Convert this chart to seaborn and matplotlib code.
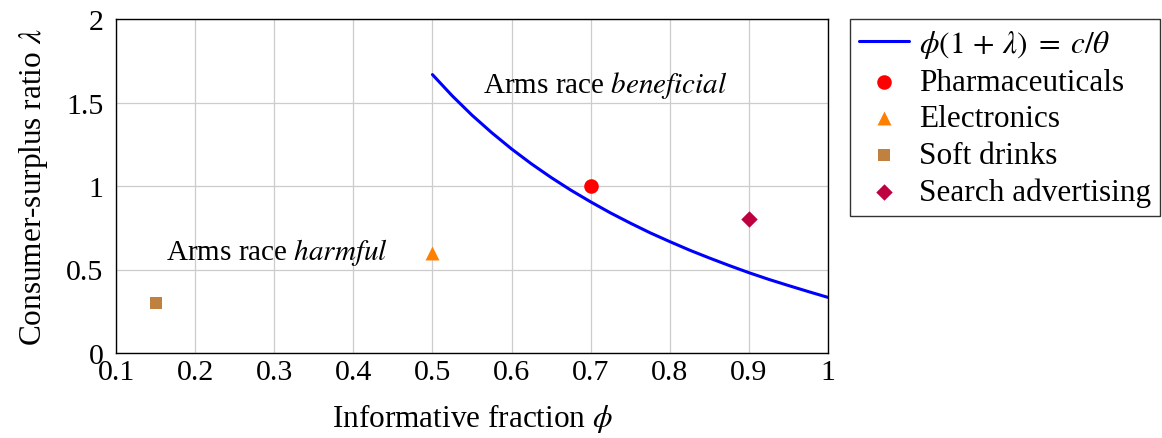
import matplotlib
matplotlib.use("Agg")
import matplotlib.pyplot as plt
import seaborn as sns
import pandas as pd

# Curve phi(1+lambda) = c/theta
curve_phi = [0.500, 0.525, 0.550, 0.575, 0.600, 0.625, 0.650, 0.675, 0.700, 0.725, 0.750,
             0.775, 0.800, 0.825, 0.850, 0.875, 0.900, 0.925, 0.950, 0.975, 1.000]
curve_lam = [1.667, 1.540, 1.424, 1.319, 1.222, 1.133, 1.051, 0.975, 0.905, 0.839, 0.778,
             0.720, 0.667, 0.616, 0.569, 0.524, 0.481, 0.441, 0.404, 0.368, 0.333]

industries = ["Pharmaceuticals", "Electronics", "Soft drinks", "Search advertising"]
ind_phi = [0.70, 0.50, 0.15, 0.90]
ind_lam = [1.00, 0.60, 0.30, 0.80]
ind_colors = ["#ff0000", "#ff7f00", "#bf8040", "#bf0040"]
ind_markers = ["o", "^", "s", "D"]
ind_sizes = [110, 100, 70, 70]

x_ticks = [0.1, 0.2, 0.3, 0.4, 0.5, 0.6, 0.7, 0.8, 0.9, 1.0]
x_ticklabels = ["0.1", "0.2", "0.3", "0.4", "0.5", "0.6", "0.7", "0.8", "0.9", "1"]
y_ticks = [0, 0.5, 1, 1.5, 2]
y_ticklabels = ["0", "0.5", "1", "1.5", "2"]

sns.set_theme(style="white")
plt.rcParams["font.family"] = ["Liberation Serif", "DejaVu Serif"]
plt.rcParams["mathtext.fontset"] = "stix"
plt.rcParams["text.color"] = "black"
plt.rcParams["axes.labelcolor"] = "black"

fig = plt.figure(figsize=(11.62, 4.39), dpi=100)
ax = fig.add_axes([116 / 1162, 1 - 354 / 439, (828 - 116) / 1162, (354 - 20) / 439])

df_curve = pd.DataFrame({"phi": curve_phi, "lam": curve_lam})
sns.lineplot(data=df_curve, x="phi", y="lam", ax=ax, color="#0000ff", linewidth=2.2,
             sort=False, estimator=None, label=r"$\phi(1\,+\,\lambda)\;=\;c/\theta$", zorder=3)

for name, px, py, c, m, s in zip(industries, ind_phi, ind_lam, ind_colors, ind_markers, ind_sizes):
    sns.scatterplot(x=[px], y=[py], ax=ax, color=c, marker=m, s=s, linewidth=0,
                    label=name, zorder=4)

ax.set_xlim(0.1, 1.0)
ax.set_ylim(0, 2)
ax.set_xticks(x_ticks)
ax.set_xticklabels(x_ticklabels)
ax.set_yticks(y_ticks)
ax.set_yticklabels(y_ticklabels)
ax.tick_params(axis="both", length=0, labelsize=21.5, colors="black")
ax.tick_params(axis="x", pad=4)
ax.tick_params(axis="y", pad=9)
ax.grid(True, color="#cccccc", linewidth=0.9)
for sp in ax.spines.values():
    sp.set_visible(True)
    sp.set_color("black")
    sp.set_linewidth(1.0)

ax.set_xlabel(r"Informative fraction $\phi$", fontsize=22.5, color="black", labelpad=12)
ax.set_ylabel(r"Consumer-surplus ratio $\lambda$", fontsize=22.5, color="black", labelpad=12)

ax.text(0.718, 1.61, r"Arms race $\mathit{beneficial}$", fontsize=21, ha="center", va="center", color="black")
ax.text(0.304, 0.61, r"Arms race $\mathit{harmful}$", fontsize=21, ha="center", va="center", color="black")

leg = ax.legend(loc="upper left", bbox_to_anchor=(850 / 1162, 1 - 20 / 439),
                bbox_transform=fig.transFigure, fontsize=22.5, frameon=True, fancybox=False,
                edgecolor="black", borderaxespad=0, handlelength=1.6, labelspacing=0.24,
                borderpad=0.3, handletextpad=0.3, labelcolor="black")
leg.get_frame().set_linewidth(1.0)

fig.savefig("out.png", dpi=100)
